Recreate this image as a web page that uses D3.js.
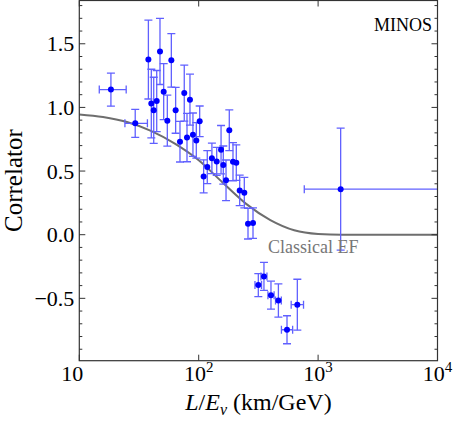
<!DOCTYPE html>
<html>
<head>
<meta charset="utf-8">
<script src="https://cdn.jsdelivr.net/npm/d3@7"></script>
<style>
  html, body { margin: 0; padding: 0; background: #fff; }
  svg { display: block; }
  text { font-family: "Liberation Serif", "Times New Roman", "DejaVu Serif", serif; }
</style>
</head>
<body>
<div id="chart"></div>
<script>
// L/E (km/GeV) and correlator values
const lOverE = [18.4, 29.4, 37.9, 47.4, 59, 40.1, 42, 44.5, 50.9, 54.6, 64.1, 75.7, 84.5,
  69.7, 79.8, 89.5, 95.5, 101.9, 110, 118, 129, 141.5, 153.9, 160.7, 169.4, 180.4, 193.7,
  206.5, 220.4, 241, 258.8, 285, 315.7, 352, 403, 465, 549, 670, 1545];
const correlator = [1.14, 0.875, 1.376, 1.44, 1.37, 1.03, 0.977, 1.05, 1.124, 0.896, 0.977, 1.113, 1.061,
  0.731, 0.763, 0.786, 0.741, 0.891, 0.458, 0.531, 0.600, 0.576, 0.668, 0.547, 0.427, 0.82, 0.574,
  0.566, 0.348, 0.330, 0.086, 0.091, -0.396, -0.328, -0.475, -0.517, -0.747, -0.55, 0.358];
const corrErr = [0.13, 0.11, 0.31, 0.26, 0.21, 0.27, 0.26, 0.24, 0.22, 0.2, 0.18, 0.22, 0.2,
  0.16, 0.19, 0.17, 0.14, 0.12, 0.13, 0.13, 0.12, 0.11, 0.19, 0.15, 0.16, 0.16, 0.15,
  0.14, 0.12, 0.12, 0.12, 0.12, 0.09, 0.11, 0.11, 0.13, 0.11, 0.2, 0.48];
// horizontal error bar ends (null = hidden under the marker)
const xLow = [14.7, 24.1, null, null, null, null, null, null, null, null, null, null, null,
  null, null, null, null, null, null, null, null, null, null, null, null, null, null,
  null, null, null, null, null, 296, 332, 380, 440, 493, 595, 766];
const xHigh = [24.7, 37.2, null, null, null, null, null, null, null, null, null, null, null,
  null, null, null, null, null, null, null, null, null, null, null, null, null, null,
  null, null, null, null, null, 336, 373, 428, 492, 612, 755, 20000];

// classical EF curve
const efX = [10, 15.8, 25.1, 39.8, 63.1, 100, 158.5, 251.2, 398.1, 631, 1000, 1585, 10000];
const efY = [0.945, 0.925, 0.885, 0.815, 0.715, 0.585, 0.41, 0.24, 0.115, 0.035, 0.006, 0.0, 0.0];

const yTicks = [-0.5, 0.0, 0.5, 1.0, 1.5];
const xTicks = [10, 100, 1000, 10000];
const xTickLabels = [["10", ""], ["10", "2"], ["10", "3"], ["10", "4"]];

const width = 457;
const height = 422;
const mLeft = 79.3, mRight = 437.5, mTop = 0.5, mBottom = 360.7;

const svg = d3.select("#chart").append("svg")
  .attr("width", width)
  .attr("height", height)
  .attr("font-family", "Liberation Serif, serif");

const x = d3.scaleLog().domain([10, 10000]).range([mLeft, mRight]);
const y = d3.scaleLinear().domain([-0.99, 1.84]).range([mBottom, mTop]);

svg.append("clipPath").attr("id", "clip")
  .append("rect")
  .attr("x", mLeft).attr("y", mTop)
  .attr("width", mRight - mLeft).attr("height", mBottom - mTop);

const plot = svg.append("g").attr("clip-path", "url(#clip)");

// curve
const line = d3.line()
  .x(d => x(d[0]))
  .y(d => y(d[1]))
  .curve(d3.curveMonotoneX);

plot.append("path")
  .datum(efX.map((v, i) => [v, efY[i]]))
  .attr("d", line)
  .attr("fill", "none")
  .attr("stroke", "#6e6e6e")
  .attr("stroke-width", 2);

// error bars
const barColor = "#6060ff";
const cap = 4;
const pts = lOverE.map((v, i) => ({x: v, y: correlator[i], e: corrErr[i], lo: xLow[i], hi: xHigh[i]}));

const bars = plot.append("g")
  .attr("stroke", barColor)
  .attr("stroke-width", 1.3)
  .attr("fill", "none");

pts.forEach(p => {
  const cx = x(p.x);
  const y1 = y(p.y + p.e), y2 = y(p.y - p.e);
  bars.append("line").attr("x1", cx).attr("x2", cx).attr("y1", y1).attr("y2", y2);
  bars.append("line").attr("x1", cx - cap).attr("x2", cx + cap).attr("y1", y1).attr("y2", y1);
  bars.append("line").attr("x1", cx - cap).attr("x2", cx + cap).attr("y1", y2).attr("y2", y2);
  if (p.lo !== null) {
    const cy = y(p.y);
    const x1 = x(p.lo), x2 = x(p.hi);
    bars.append("line").attr("x1", x1).attr("x2", x2).attr("y1", cy).attr("y2", cy);
    bars.append("line").attr("x1", x1).attr("x2", x1).attr("y1", cy - cap).attr("y2", cy + cap);
    bars.append("line").attr("x1", x2).attr("x2", x2).attr("y1", cy - cap).attr("y2", cy + cap);
  }
});

plot.append("g").selectAll("circle")
  .data(pts)
  .enter().append("circle")
  .attr("cx", d => x(d.x))
  .attr("cy", d => y(d.y))
  .attr("r", 3)
  .attr("fill", "#0000ff");

// frame
svg.append("rect")
  .attr("x", mLeft).attr("y", mTop)
  .attr("width", mRight - mLeft).attr("height", mBottom - mTop)
  .attr("fill", "none")
  .attr("stroke", "#333")
  .attr("stroke-width", 1.2);

// y ticks (left and right, pointing inward)
const ticks = svg.append("g").attr("stroke", "#333").attr("stroke-width", 1);
d3.range(-9, 19).map(k => k / 10).forEach(v => {
  const major = Math.abs(v * 2 - Math.round(v * 2)) < 1e-6;
  const len = major ? 6 : 3;
  const yy = y(v);
  ticks.append("line").attr("x1", mLeft).attr("x2", mLeft + len).attr("y1", yy).attr("y2", yy);
  ticks.append("line").attr("x1", mRight).attr("x2", mRight - len).attr("y1", yy).attr("y2", yy);
});
xTicks.forEach(v => {
  const xx = x(v);
  ticks.append("line").attr("x1", xx).attr("x2", xx).attr("y1", mBottom).attr("y2", mBottom - 6);
  ticks.append("line").attr("x1", xx).attr("x2", xx).attr("y1", mTop).attr("y2", mTop + 6);
});

// y tick labels
svg.append("g").selectAll("text")
  .data(yTicks)
  .enter().append("text")
  .attr("x", mLeft - 5)
  .attr("y", d => y(d))
  .attr("dy", "0.35em")
  .attr("text-anchor", "end")
  .attr("font-size", 22)
  .text(d => (d < 0 ? "\u2212" : "") + Math.abs(d).toFixed(1));

// x tick labels
xTicks.forEach((v, i) => {
  const t = svg.append("text")
    .attr("x", x(v) + (i === 0 ? -7 : 0))
    .attr("y", 381)
    .attr("text-anchor", "middle")
    .attr("font-size", 22);
  t.append("tspan").text(xTickLabels[i][0]);
  if (xTickLabels[i][1]) {
    t.append("tspan").attr("dy", -9).attr("font-size", 15).text(xTickLabels[i][1]);
  }
});

// axis titles
const xt = svg.append("text")
  .attr("x", (mLeft + mRight) / 2)
  .attr("y", 410)
  .attr("text-anchor", "middle")
  .attr("font-size", 24);
xt.append("tspan").attr("font-style", "italic").text("L");
xt.append("tspan").text("/");
xt.append("tspan").attr("font-style", "italic").text("E");
xt.append("tspan").attr("font-style", "italic").attr("font-size", 16).attr("dy", 5).text("\u03bd");
xt.append("tspan").attr("dy", -5).text(" (km/GeV)");

svg.append("text")
  .attr("transform", `translate(22,${(mTop + mBottom) / 2}) rotate(-90)`)
  .attr("text-anchor", "middle")
  .attr("font-size", 25)
  .text("Correlator");

svg.append("text")
  .attr("x", 432)
  .attr("y", 31)
  .attr("text-anchor", "end")
  .attr("font-size", 18)
  .text("MINOS");

svg.append("text")
  .attr("x", 268)
  .attr("y", 253)
  .attr("font-size", 18)
  .attr("fill", "#777")
  .text("Classical EF");
</script>
</body>
</html>
